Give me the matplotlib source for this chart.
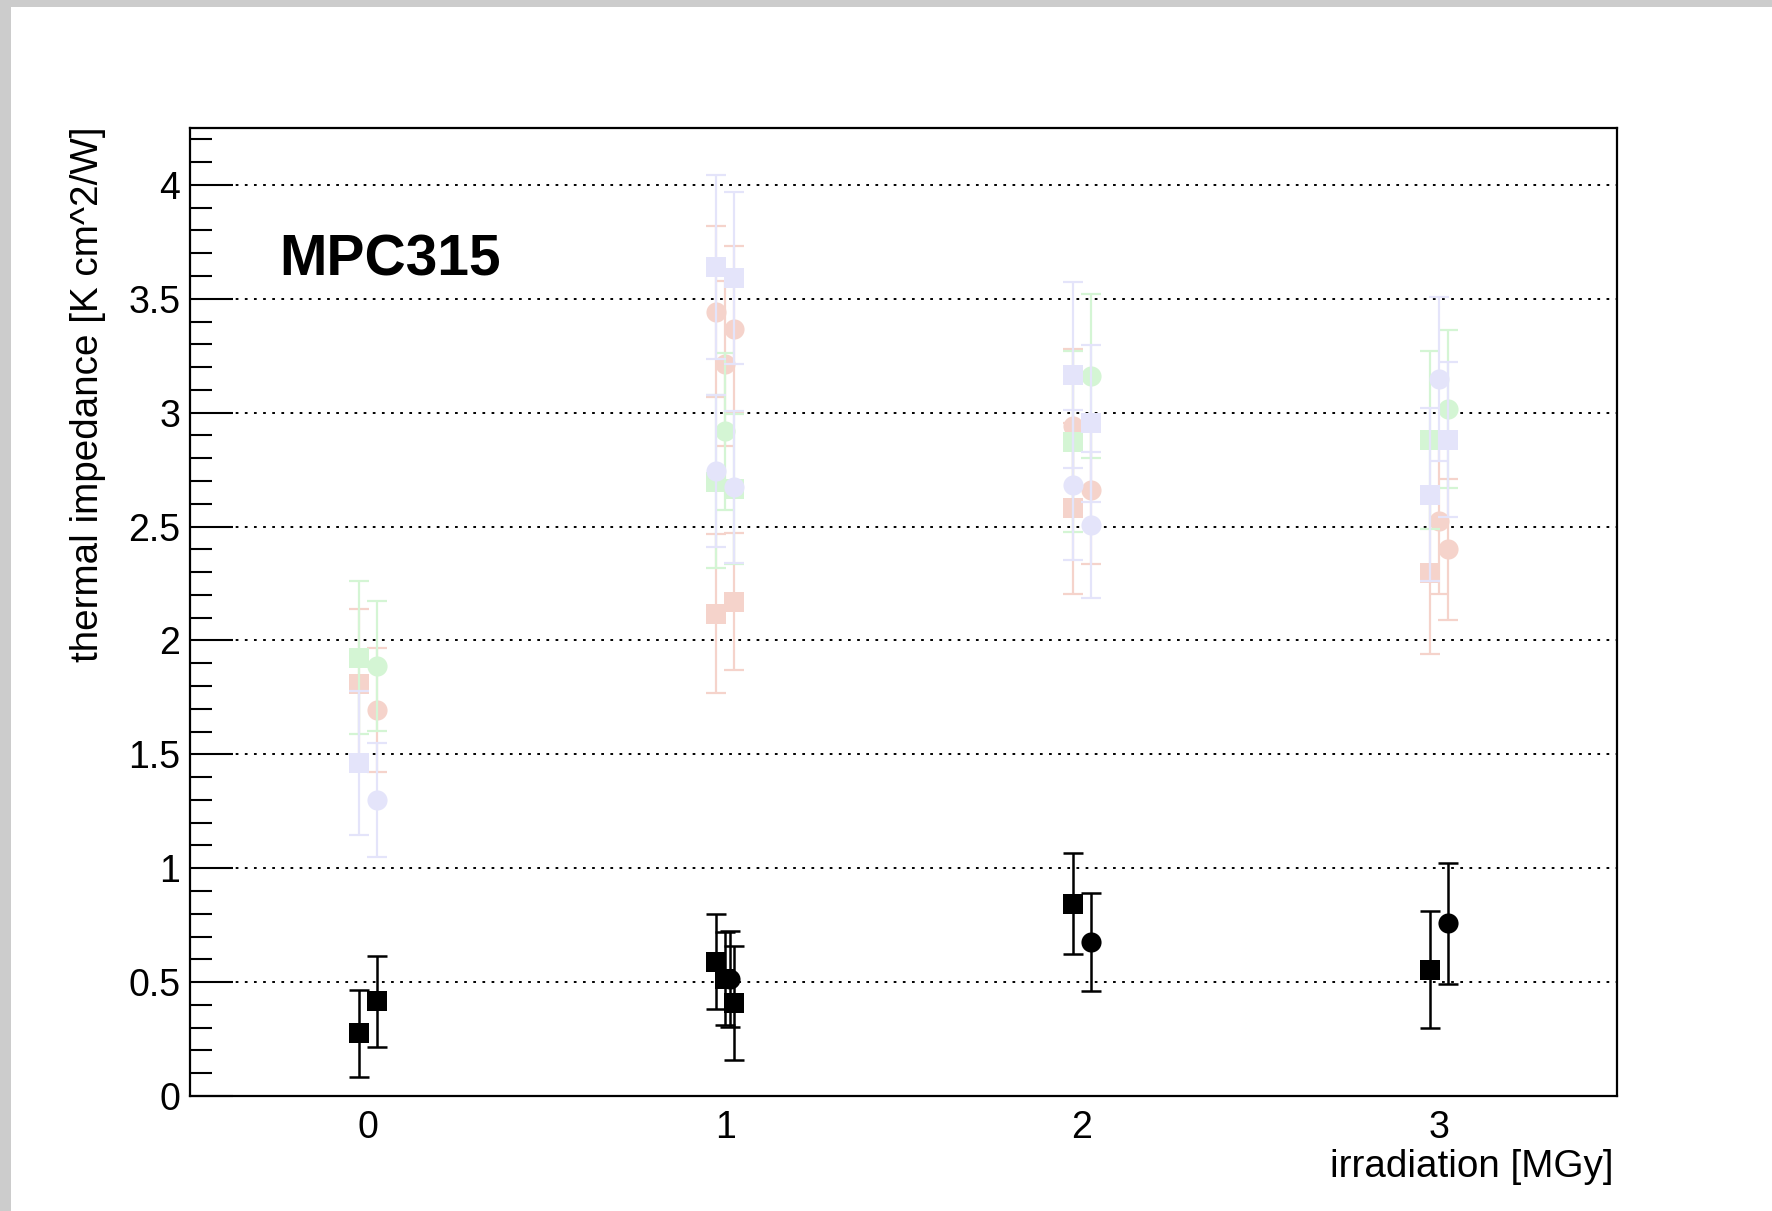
import matplotlib
matplotlib.use("Agg")
import matplotlib.pyplot as plt
from matplotlib.ticker import MultipleLocator
import matplotlib.patches as mpatches

plt.rcParams['font.family'] = ['Liberation Sans', 'DejaVu Sans']

# ---------------- data ----------------
dose_ticks = [0, 1, 2, 3]
dose_labels = ["0", "1", "2", "3"]

black_sq_x = [-0.025, 0.025, 0.975, 1.0, 1.025, 1.975, 2.975]
black_sq_y = [0.275, 0.415, 0.59, 0.515, 0.408, 0.844, 0.555]
black_sq_e = [0.19, 0.20, 0.207, 0.204, 0.25, 0.222, 0.257]

black_ci_x = [1.0125, 2.025, 3.025]
black_ci_y = [0.515, 0.676, 0.759]
black_ci_e = [0.21, 0.217, 0.266]

green_sq_x = [-0.025, 0.975, 1.025, 1.975, 2.975]
green_sq_y = [1.925, 2.697, 2.665, 2.873, 2.881]
green_sq_e = [0.337, 0.38, 0.33, 0.396, 0.392]

green_ci_x = [0.025, 1.0, 2.025, 3.025]
green_ci_y = [1.887, 2.918, 3.160, 3.015]
green_ci_e = [0.285, 0.344, 0.36, 0.346]

red_sq_x = [-0.025, 0.975, 1.025, 1.975, 2.975]
red_sq_y = [1.809, 2.118, 2.171, 2.58, 2.298]
red_sq_e = [0.33, 0.348, 0.30, 0.375, 0.358]

red_ci_x = [0.025, 0.975, 1.0, 1.025, 1.975, 2.025, 3.0, 3.025]
red_ci_y = [1.694, 3.443, 3.215, 3.366, 2.94, 2.661, 2.526, 2.40]
red_ci_e = [0.273, 0.375, 0.363, 0.367, 0.34, 0.326, 0.32, 0.31]

blue_sq_x = [-0.025, 0.975, 1.025, 1.975, 2.025, 2.975, 3.025]
blue_sq_y = [1.463, 3.639, 3.592, 3.166, 2.954, 2.639, 2.881]
blue_sq_e = [0.316, 0.405, 0.378, 0.409, 0.344, 0.38, 0.34]

blue_ci_x = [0.025, 0.975, 1.025, 1.975, 2.025, 3.0]
blue_ci_y = [1.30, 2.744, 2.673, 2.683, 2.507, 3.15]
blue_ci_e = [0.251, 0.333, 0.333, 0.33, 0.32, 0.36]

# ---------------- figure ----------------
W, H = 1772, 1211
fig = plt.figure(figsize=(W / 100, H / 100), dpi=100)
fig.patch.set_facecolor('white')

# grey window border (top and left)
fig.add_artist(mpatches.Rectangle((0, 1 - 7 / H), 1, 7 / H, transform=fig.transFigure,
                                  color='#cccccc', lw=0, zorder=-10))
fig.add_artist(mpatches.Rectangle((0, 0), 11 / W, 1, transform=fig.transFigure,
                                  color='#cccccc', lw=0, zorder=-10))

L, R, T, B = 190, 1617, 128, 1096
ax = fig.add_axes([L / W, 1 - B / H, (R - L) / W, (B - T) / H])
ax.set_xlim(-0.5, 3.5)
ax.set_ylim(0, 4.25)

for s in ax.spines.values():
    s.set_linewidth(1.6)

# grid
for yv in [0.5, 1.0, 1.5, 2.0, 2.5, 3.0, 3.5, 4.0]:
    ax.axhline(yv, color='black', lw=1.4, ls=(0, (1.4, 3.3)), zorder=1)

ms = 14.5
cap = 7


def draw(xs, ys, es, color, marker, z, elw):
    ax.errorbar(xs, ys, yerr=es, fmt='none', ecolor=color,
                elinewidth=elw, capsize=cap, capthick=elw, zorder=z)
    ax.plot(xs, ys, ls='none', marker=marker, color=color, ms=ms, mew=0,
            zorder=z + 0.5)


red_c, green_c, blue_c = '#f5d3cb', '#d4f5d4', '#e4e4fa'
draw(red_sq_x, red_sq_y, red_sq_e, red_c, 's', 3, 1.6)
draw(red_ci_x, red_ci_y, red_ci_e, red_c, 'o', 3, 1.6)
draw(green_sq_x, green_sq_y, green_sq_e, green_c, 's', 4, 1.6)
draw(green_ci_x, green_ci_y, green_ci_e, green_c, 'o', 4, 1.6)
draw(blue_sq_x, blue_sq_y, blue_sq_e, blue_c, 's', 5, 1.6)
draw(blue_ci_x, blue_ci_y, blue_ci_e, blue_c, 'o', 5, 1.6)
draw(black_sq_x, black_sq_y, black_sq_e, 'black', 's', 7, 1.8)
draw(black_ci_x, black_ci_y, black_ci_e, 'black', 'o', 7, 1.8)

# ticks
ax.set_xticks(dose_ticks)
ax.set_xticklabels(dose_labels)
ax.tick_params(axis='x', length=0, labelsize=27, pad=10)
yt = [0, 0.5, 1, 1.5, 2, 2.5, 3, 3.5, 4]
ax.set_yticks(yt)
ax.set_yticklabels(["0", "0.5", "1", "1.5", "2", "2.5", "3", "3.5", "4"])
ax.yaxis.set_minor_locator(MultipleLocator(0.1))
ax.tick_params(axis='y', which='major', direction='in', length=31, width=1.5,
               labelsize=27, pad=7)
ax.tick_params(axis='y', which='minor', direction='in', length=15.5, width=1.5)

fig.text(279 / W, 1 - 275 / H, 'MPC315', fontsize=41, fontweight='bold',
         ha='left', va='baseline')

fig.text(88 / W, 1 - 127 / H, 'thermal impedance [K cm^2/W]', rotation=90,
         fontsize=27.8, ha='center', va='top')
fig.text(1614 / W, 1 - 1177 / H, 'irradiation [MGy]', fontsize=27.8,
         ha='right', va='baseline')

fig.savefig('out.png', dpi=100)
